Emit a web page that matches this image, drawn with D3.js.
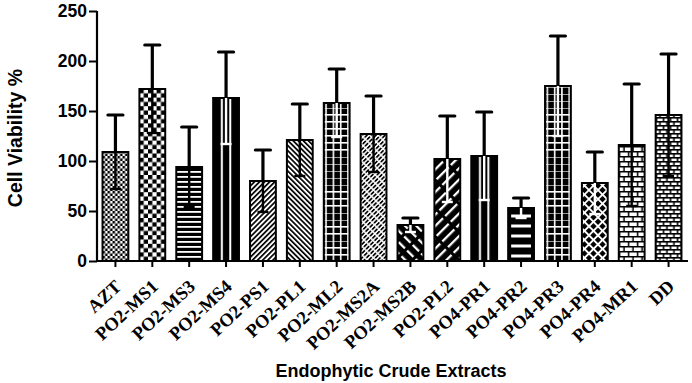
<!DOCTYPE html>
<html><head><meta charset="utf-8">
<script src="https://cdn.jsdelivr.net/npm/d3@7/dist/d3.min.js"></script>
<style>
html,body{margin:0;padding:0;background:#fff;}
svg{display:block;}
</style></head>
<body>
<svg id="chart" width="692" height="383"></svg>
<script>
const categories = ["AZT","PO2-MS1","PO2-MS3","PO2-MS4","PO2-PS1","PO2-PL1","PO2-ML2","PO2-MS2A","PO2-MS2B","PO2-PL2","PO4-PR1","PO4-PR2","PO4-PR3","PO4-PR4","PO4-MR1","DD"];
const means  = [109,172,94,163,80,121,158,127,36,102,105,53,175,78,116,146];
const errors = [37,44,40,46,31,36,34,38,7,43,44,10,50,31,61,61];
const yTicks = [0,50,100,150,200,250];
const yTitle = "Cell Viability %";
const xTitle = "Endophytic Crude Extracts";

// styling: pattern per bar
const patternTypes = ["fineCheck","check","hstripe","vline","diagF","diagB","grid","dashDiag","wDashDiag","wDiag","vline","hdash","grid","xlattice","brick","brick2"];
const darkTypes = new Set(["vline","grid","wDashDiag","wDiag","hdash","xlattice"]);

const svg = d3.select("#chart");
const x = d3.scaleBand().domain(categories).range([97, 687]).paddingInner(0.3).paddingOuter(0.15);
const y = d3.scaleLinear().domain([0, 250]).range([261, 11]);
const bw = x.bandwidth();
const defs = svg.append("defs");

function pat(id, w, h, px, py, transform) {
  const p = defs.append("pattern").attr("id", id).attr("patternUnits", "userSpaceOnUse")
    .attr("width", w).attr("height", h).attr("x", px).attr("y", py);
  if (transform) p.attr("patternTransform", transform);
  return p;
}
function rect(p, x0, y0, w, h, fill) {
  p.append("rect").attr("x", x0).attr("y", y0).attr("width", w).attr("height", h).attr("fill", fill);
}

categories.forEach((c, i) => {
  const id = "p" + i, bx = x(c), type = patternTypes[i], y0 = y(0);
  let p;
  switch (type) {
    case "fineCheck":
      p = pat(id, 5, 5, bx, y0); rect(p,0,0,5,5,"#fff"); rect(p,0,0,2.5,2.5,"#000"); rect(p,2.5,2.5,2.5,2.5,"#000"); break;
    case "check":
      p = pat(id, 8.6, 8.6, bx, y0); rect(p,0,0,8.6,8.6,"#fff"); rect(p,0,0,4.3,4.3,"#000"); rect(p,4.3,4.3,4.3,4.3,"#000"); break;
    case "hstripe":
      p = pat(id, 4, 5, bx, y0); rect(p,0,0,4,5,"#000"); rect(p,0,0,4,1.8,"#fff"); break;
    case "vline":
      p = pat(id, bw, 10, bx, y0); rect(p,0,0,bw,10,"#000"); rect(p,bw/2-5.2,0,2,10,"#fff"); rect(p,bw/2+3.2,0,2,10,"#fff"); break;
    case "diagF":
      p = pat(id, 3.6, 6, bx, y0, "rotate(45)"); rect(p,0,0,3.6,6,"#fff"); rect(p,0,0,1.7,6,"#000"); break;
    case "diagB":
      p = pat(id, 3.6, 6, bx, y0, "rotate(-45)"); rect(p,0,0,3.6,6,"#fff"); rect(p,0,0,1.7,6,"#000"); break;
    case "grid":
      p = pat(id, 7.3, 7, bx + 1.5, y0); rect(p,0,0,7.3,7,"#000"); rect(p,0,0,1.6,7,"#fff"); rect(p,0,0,7.3,1.6,"#fff"); break;
    case "dashDiag":
      p = pat(id, 3.2, 6, bx, y0, "rotate(45)"); rect(p,0,0,3.2,6,"#fff"); rect(p,0,0,1.7,4.4,"#000"); break;
    case "wDashDiag":
      p = pat(id, 8, 12, bx, y0, "rotate(-45)"); rect(p,0,0,8,12,"#000"); rect(p,0,0,2.3,9,"#fff"); break;
    case "wDiag":
      p = pat(id, 8, 20, bx, y0, "rotate(45)"); rect(p,0,0,8,20,"#000"); rect(p,0,0,2.3,17,"#fff"); break;
    case "hdash":
      p = pat(id, bw, 10, bx, y0); rect(p,0,0,bw,10,"#000"); rect(p,3,3.5,bw-6,3,"#fff"); break;
    case "xlattice":
      p = pat(id, 6.4, 6.4, bx, y0, "rotate(45)"); rect(p,0,0,6.4,6.4,"#000"); rect(p,0,0,1.9,6.4,"#fff"); rect(p,0,0,6.4,1.9,"#fff"); break;
    case "brick":
      p = pat(id, 9, 10, bx, y0); rect(p,0,0,9,10,"#fff"); rect(p,0,0,9,1.5,"#000"); rect(p,0,5,9,1.5,"#000");
      rect(p,0,0,1.5,5,"#000"); rect(p,4.5,5,1.5,5,"#000"); break;
    case "brick2":
      p = pat(id, 7, 8, bx, y0); rect(p,0,0,7,8,"#fff"); rect(p,0,0,7,1.6,"#000"); rect(p,0,4,7,1.6,"#000");
      rect(p,0,0,1.6,4,"#000"); rect(p,3.5,4,1.6,4,"#000"); break;
  }
});

// bars
svg.append("g").selectAll("rect").data(categories).join("rect")
  .attr("x", d => x(d)).attr("width", bw)
  .attr("y", (d, i) => y(means[i])).attr("height", (d, i) => y(0) - y(means[i]))
  .attr("fill", (d, i) => "url(#p" + i + ")")
  .attr("stroke", "#000").attr("stroke-width", 2);

// error bars
const capW = 15;
const eg = svg.append("g");
categories.forEach((c, i) => {
  const cx = x(c) + bw / 2;
  const top = y(means[i] + errors[i]), mid = y(means[i]), bot = y(means[i] - errors[i]);
  const lowCol = darkTypes.has(patternTypes[i]) ? "#fff" : "#000";
  eg.append("line").attr("x1", cx).attr("x2", cx).attr("y1", bot).attr("y2", mid)
    .attr("stroke", lowCol).attr("stroke-width", 2.4);
  eg.append("line").attr("x1", cx - capW/2 + 2).attr("x2", cx + capW/2 - 2).attr("y1", bot).attr("y2", bot)
    .attr("stroke", lowCol).attr("stroke-width", 2.4);
  eg.append("line").attr("x1", cx).attr("x2", cx).attr("y1", top).attr("y2", mid)
    .attr("stroke", "#000").attr("stroke-width", 3.2);
  eg.append("line").attr("x1", cx - capW/2).attr("x2", cx + capW/2).attr("y1", top).attr("y2", top)
    .attr("stroke", "#000").attr("stroke-width", 3.2).attr("stroke-linecap", "round");
});

// y axis
const yAxis = svg.append("g").attr("transform", "translate(97,0)")
  .call(d3.axisLeft(y).tickValues(yTicks).tickSize(8).tickPadding(2).tickFormat(d3.format("d")));
yAxis.select(".domain").attr("stroke-width", 2.2).attr("d", `M0,${y(250)}V${y(0)}`);
yAxis.selectAll(".tick line").attr("stroke-width", 2);
yAxis.selectAll("text").attr("font-family", "Liberation Sans, Arial, sans-serif").attr("font-weight", "bold").attr("font-size", 17.5).attr("fill", "#000");

// x axis
const xAxis = svg.append("g").attr("transform", `translate(0,${y(0)})`)
  .call(d3.axisBottom(x).tickSize(6).tickSizeOuter(0));
xAxis.select(".domain").attr("stroke-width", 2.2).attr("d", "M96,0H688");
xAxis.selectAll(".tick line").attr("stroke-width", 2);
xAxis.selectAll("text")
  .attr("font-family", "Liberation Serif, Times New Roman, serif").attr("font-weight", "bold").attr("font-size", 18.5).attr("fill", "#000")
  .attr("text-anchor", "end").attr("dy", null).attr("y", 0)
  .attr("transform", "translate(7,27) rotate(-43)");

// titles
svg.append("text").attr("transform", "translate(22,138) rotate(-90)").attr("text-anchor", "middle")
  .attr("font-family", "Liberation Sans, Arial, sans-serif").attr("font-weight", "bold").attr("font-size", 19.5).text(yTitle);
svg.append("text").attr("x", 391).attr("y", 377).attr("text-anchor", "middle")
  .attr("font-family", "Liberation Sans, Arial, sans-serif").attr("font-weight", "bold").attr("font-size", 18).text(xTitle);
</script>
</body></html>
